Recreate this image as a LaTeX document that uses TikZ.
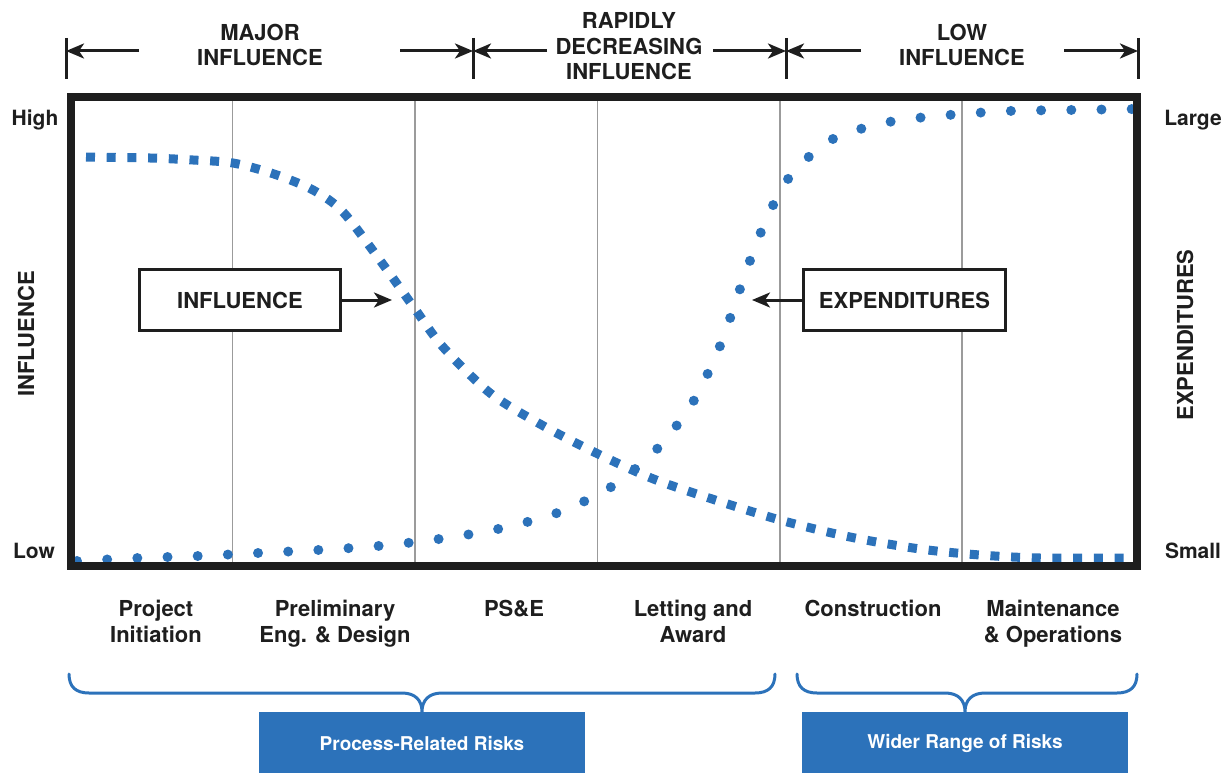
\documentclass[tikz,border=0pt]{standalone}
\usepackage{fontspec}
\setmainfont{TeX Gyre Heros}
\usetikzlibrary{arrows.meta}

\definecolor{riskblue}{RGB}{44,114,186}
\definecolor{gridgray}{RGB}{155,155,155}
\definecolor{ink}{RGB}{30,30,30}

\tikzset{
  zonetext/.style={font=\bfseries\fontsize{22}{25.5}\selectfont, text=ink, align=center, inner sep=0pt, anchor=south},
  axistext/.style={font=\bfseries\fontsize{21}{25}\selectfont, text=ink, inner sep=0pt},
  phase/.style={font=\bfseries\fontsize{22}{26}\selectfont, text=ink, align=center, inner sep=0pt, anchor=north},
  calloutbox/.style={draw=ink, line width=3pt, fill=white, font=\bfseries\fontsize{22}{26}\selectfont, text=ink, minimum height=61pt},
  riskbox/.style={fill=riskblue, text=white, font=\bfseries\fontsize{19}{22}\selectfont, minimum width=326pt, minimum height=63pt},
  pointer/.style={draw=ink, line width=3pt, -{Stealth[length=18pt,width=15pt,inset=5pt]}},
  tick/.style={draw=ink, line width=3pt},
  brace/.style={draw=riskblue, line width=3pt, line cap=round, line join=round},
  influence/.style={draw=riskblue, line width=9pt, dash pattern=on 9pt off 11.7pt},
  spending/.style={draw=riskblue, line width=10pt, line cap=round, dash pattern=on 0pt off 30.2pt}
}

\begin{document}
\begin{tikzpicture}[x=1pt, y=-1pt]
  \useasboundingbox (0,0) rectangle (1231,773);

  % zone markers along the top
  \foreach \n/\x in {a/66, b/473, c/786, d/1138} {
    \coordinate (tick\n) at (\x,38);
    \coordinate (foot\n) at (\x,79);
    \draw[tick] (tick\n) -- (foot\n);
  }
  \node[zonetext] (major) at (260,66) {MAJOR\\INFLUENCE};
  \node[zonetext] (rapid) at (629,80) {RAPIDLY\\DECREASING\\INFLUENCE};
  \node[zonetext] (minor) at (962,66) {LOW\\INFLUENCE};
  \coordinate (a1) at (139,51);
  \coordinate (a2) at (400,51);
  \coordinate (b1) at (547,51);
  \coordinate (b2) at (713,51);
  \coordinate (c1) at (861,51);
  \coordinate (c2) at (1064,51);
  \draw[pointer] (a1) -- (a1 -| ticka);
  \draw[pointer] (a2) -- (a2 -| tickb);
  \draw[pointer] (b1) -- (b1 -| tickb);
  \draw[pointer] (b2) -- (b2 -| tickc);
  \draw[pointer] (c1) -- (c1 -| tickc);
  \draw[pointer] (c2) -- (c2 -| tickd);

  % phase separators
  \foreach \x in {232.5, 415, 597.5, 780, 962}
    \draw[gridgray, line width=1.5pt] (\x,101) -- (\x,562);

  % influence curve
  \draw[influence] plot[smooth, tension=0.5] coordinates {
    (86,157) (150,158) (193,160) (233,163) (274,174) (313,190) (343,212)
    (382,263) (415,309) (443,347) (490,393) (540,424) (594,452) (651,478)
    (709,498) (780,520) (850,537) (920,549) (980,555) (1040,558) (1128,558)};

  % expenditure curve
  \draw[spending] plot[smooth, tension=0.5] coordinates {
    (77,561) (138,558) (198,556) (258,553) (318,550) (378,546) (439,539)
    (498,529) (557,513) (611,487) (657,449) (693,402) (720,346) (740,289)
    (761,232) (788,179) (831,140) (889,122) (949,115) (1009,111) (1069,110)
    (1136,109)};

  % chart frame
  \draw[ink, line width=8pt] (71,97) rectangle (1137,566);

  % axis labels
  \node[axistext, anchor=base] (high) at (35,125.5) {High};
  \node[axistext, anchor=base] (lowend) at (34,558) {Low};
  \node[axistext, anchor=base] (large) at (1193,125.5) {Large};
  \node[axistext, anchor=base] (small) at (1193,558) {Small};
  \node[axistext, font=\bfseries\fontsize{22}{26}\selectfont, rotate=90] (infaxis) at (26,334) {INFLUENCE};
  \node[axistext, font=\bfseries\fontsize{22}{26}\selectfont, rotate=90] (expaxis) at (1185,335) {EXPENDITURES};

  % callouts
  \node[calloutbox, minimum width=201pt] (infbox) at (240,300) {INFLUENCE};
  \node[calloutbox, minimum width=202pt] (expbox) at (904.5,300) {EXPENDITURES};
  \coordinate (infhit) at (392,300);
  \coordinate (exphit) at (752,300);
  \draw[pointer] (infbox) -- (infhit);
  \draw[pointer] (expbox) -- (exphit);

  % project phases
  \node[phase] (init) at (156,600) {Project\\Initiation};
  \node[phase] (prelim) at (335,600) {Preliminary\\Eng. \& Design};
  \node[phase] (pse) at (514,600) {PS\&E};
  \node[phase] (letting) at (693,600) {Letting and\\Award};
  \node[phase] (constr) at (873,600) {Construction};
  \node[phase] (maint) at (1053,600) {Maintenance\\\& Operations};

  % risk groups
  \node[riskbox] (procbox) at (422,743.5) {Process-Related Risks};
  \node[riskbox] (widebox) at (965,743.5) {Wider Range of Risks};
  \draw[brace] (69,674) .. controls (69,687) and (76,693) .. (89,693)
    -- (402,693) .. controls (415,693) and (422,700) .. (procbox.north)
    .. controls (422,700) and (429,693) .. (442,693)
    -- (755,693) .. controls (768,693) and (775,687) .. (775,674);
  \draw[brace] (797,674) .. controls (797,687) and (804,693) .. (817,693)
    -- (945,693) .. controls (958,693) and (965,700) .. (widebox.north)
    .. controls (965,700) and (972,693) .. (985,693)
    -- (1117,693) .. controls (1130,693) and (1137,687) .. (1137,674);
\end{tikzpicture}
\end{document}
